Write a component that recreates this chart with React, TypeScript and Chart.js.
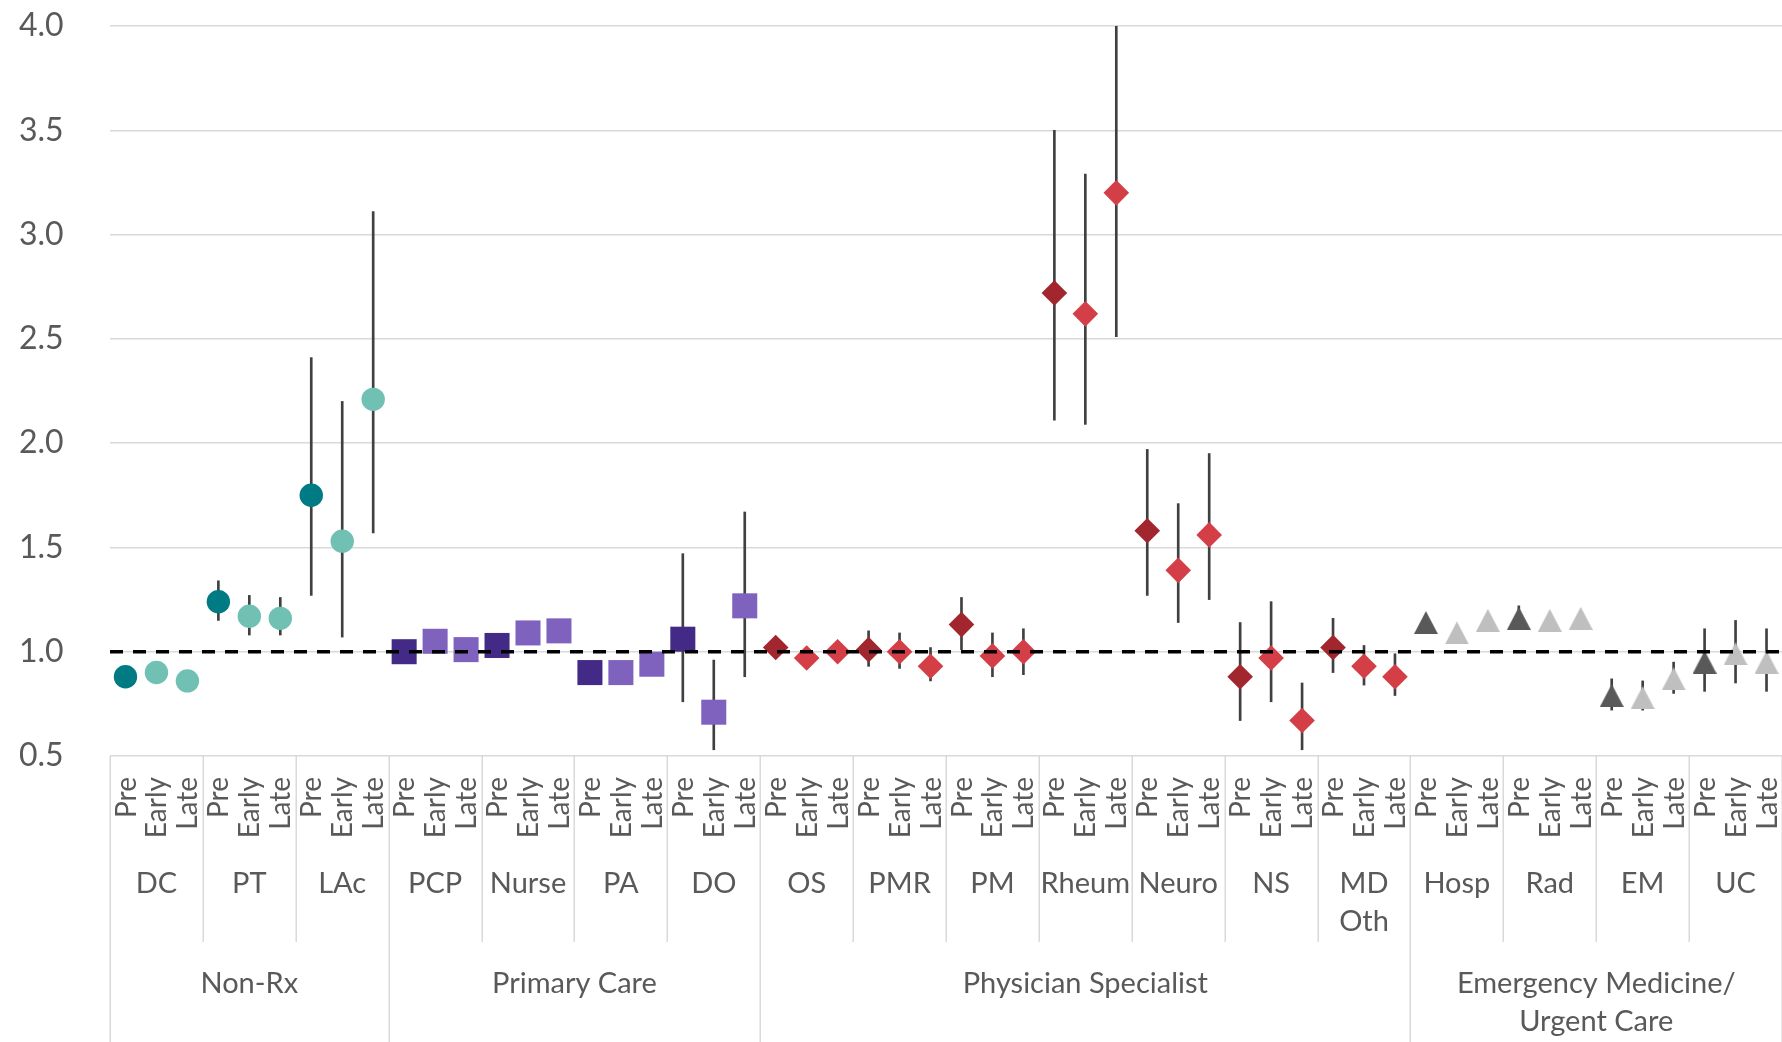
import React, { useEffect, useRef } from 'react';
import { Chart, registerables } from 'chart.js';

Chart.register(...registerables);

// ---------- data ----------
const GROUPS = ['Non-Rx', 'Primary Care', 'Physician Specialist', 'Emergency Medicine/\nUrgent Care'];
const GROUP_SIZES = [3, 4, 7, 4];
const SUBCATEGORIES = [
  'DC', 'PT', 'LAc',
  'PCP', 'Nurse', 'PA', 'DO',
  'OS', 'PMR', 'PM', 'Rheum', 'Neuro', 'NS', 'MD\nOth',
  'Hosp', 'Rad', 'EM', 'UC',
];
const PHASES = ['Pre', 'Early', 'Late'];

const ESTIMATES = [
  0.88, 0.90, 0.86,
  1.24, 1.17, 1.16,
  1.75, 1.53, 2.21,
  1.00, 1.05, 1.01,
  1.03, 1.09, 1.10,
  0.90, 0.90, 0.94,
  1.06, 0.71, 1.22,
  1.02, 0.97, 1.00,
  1.01, 1.00, 0.93,
  1.13, 0.98, 1.00,
  2.72, 2.62, 3.20,
  1.58, 1.39, 1.56,
  0.88, 0.97, 0.67,
  1.02, 0.93, 0.88,
  1.14, 1.09, 1.15,
  1.16, 1.15, 1.16,
  0.79, 0.78, 0.87,
  0.95, 0.99, 0.95,
];

const LOWER = [
  null, null, null,
  1.15, 1.08, 1.08,
  1.27, 1.07, 1.57,
  null, null, null,
  null, null, null,
  null, null, null,
  0.76, 0.53, 0.88,
  null, null, null,
  0.93, 0.92, 0.86,
  1.01, 0.88, 0.89,
  2.11, 2.09, 2.51,
  1.27, 1.14, 1.25,
  0.67, 0.76, 0.53,
  0.90, 0.84, 0.79,
  null, null, null,
  1.12, 1.11, null,
  0.72, 0.72, 0.80,
  0.81, 0.85, 0.81,
];

const UPPER = [
  null, null, null,
  1.34, 1.27, 1.26,
  2.41, 2.20, 3.11,
  null, null, null,
  null, null, null,
  null, null, null,
  1.47, 0.96, 1.67,
  null, null, null,
  1.10, 1.09, 1.02,
  1.26, 1.09, 1.11,
  3.50, 3.29, 4.00,
  1.97, 1.71, 1.95,
  1.14, 1.24, 0.85,
  1.16, 1.03, 0.99,
  null, null, null,
  1.22, 1.18, null,
  0.87, 0.86, 0.95,
  1.11, 1.15, 1.11,
];

const Y_MIN = 0.5;
const Y_MAX = 4.0;
const Y_STEP = 0.5;
const REFERENCE = 1.0;

// ---------- styles ----------
const FONT = 'Lato, "Open Sans", sans-serif';
const TEXT_COLOR = '#595959';
const GRID_COLOR = '#d9d9d9';
const GROUP_STYLES = [
  { shape: 'circle', radius: 11.7, dark: '#007B84', light: '#70C1B3' },
  { shape: 'rect', radius: 17.7, dark: '#432A86', light: '#7F62BD' },
  { shape: 'rectRot', radius: 12.8, dark: '#A2262E', light: '#D43E46' },
  { shape: 'triangle', radius: 11.5, dark: '#595959', light: '#BFBFBF' },
];

function makeTriangle(color: string, w = 24, h = 23) {
  const c = document.createElement('canvas');
  c.width = w;
  c.height = h;
  const g = c.getContext('2d')!;
  g.fillStyle = color;
  g.beginPath();
  g.moveTo(w / 2, 0);
  g.lineTo(w, h);
  g.lineTo(0, h);
  g.closePath();
  g.fill();
  return c;
}

const hierLabels = {
  id: 'hierLabels',
  afterDraw(chart: any) {
    const ctx = chart.ctx as CanvasRenderingContext2D;
    const xs = chart.scales.x;
    const area = chart.chartArea;
    const base = area.bottom;
    const bottom = chart.height;
    ctx.save();
    ctx.fillStyle = TEXT_COLOR;

    // rotated phase labels
    ctx.font = `28px ${FONT}`;
    ctx.textAlign = 'right';
    ctx.textBaseline = 'middle';
    for (let i = 0; i < SUBCATEGORIES.length * PHASES.length; i++) {
      const x = xs.getPixelForValue(i);
      ctx.save();
      ctx.translate(x + 1, base + 21);
      ctx.rotate(-Math.PI / 2);
      ctx.fillText(PHASES[i % PHASES.length], 0, 0);
      ctx.restore();
    }

    // separators
    const groupStarts = new Set<number>();
    let acc = 0;
    GROUP_SIZES.forEach((s) => { groupStarts.add(acc); acc += s; });
    groupStarts.add(acc);
    ctx.strokeStyle = GRID_COLOR;
    ctx.lineWidth = 1.5;
    for (let k = 0; k <= SUBCATEGORIES.length; k++) {
      const x = Math.round(xs.getPixelForValue(k * 3 - 0.5)) + 0.25;
      const yEnd = groupStarts.has(k) ? bottom : base + 186;
      ctx.beginPath();
      ctx.moveTo(x, base);
      ctx.lineTo(x, yEnd);
      ctx.stroke();
    }

    // subcategory labels
    ctx.font = `29px ${FONT}`;
    ctx.textAlign = 'center';
    ctx.textBaseline = 'alphabetic';
    SUBCATEGORIES.forEach((name, k) => {
      const x = xs.getPixelForValue(k * 3 + 1);
      name.split('\n').forEach((line, j) => {
        ctx.fillText(line, x, base + 137 + j * 38);
      });
    });

    // group labels
    let start = 0;
    GROUPS.forEach((name, g) => {
      const n = GROUP_SIZES[g];
      const x0 = xs.getPixelForValue(start * 3 - 0.5);
      const x1 = xs.getPixelForValue((start + n) * 3 - 0.5);
      const x = (x0 + x1) / 2;
      name.split('\n').forEach((line, j) => {
        ctx.fillText(line, x, base + 237 + j * 38);
      });
      start += n;
    });
    ctx.restore();
  },
};

export default function App() {
  const ref = useRef<HTMLCanvasElement>(null);

  useEffect(() => {
    const canvas = ref.current!;
    const triDark = makeTriangle(GROUP_STYLES[3].dark);
    const triLight = makeTriangle(GROUP_STYLES[3].light);

    const pointSets: any[] = [];
    let start = 0;
    GROUP_SIZES.forEach((n, g) => {
      const st = GROUP_STYLES[g];
      const data: any[] = [];
      const colors: string[] = [];
      const styles: any[] = [];
      for (let i = start * 3; i < (start + n) * 3; i++) {
        data.push({ x: i, y: ESTIMATES[i] });
        const isPre = i % 3 === 0;
        colors.push(isPre ? st.dark : st.light);
        if (st.shape === 'triangle') styles.push(isPre ? triDark : triLight);
        else styles.push(st.shape);
      }
      pointSets.push({
        type: 'scatter',
        label: GROUPS[g],
        data,
        pointStyle: styles,
        pointRadius: st.radius,
        pointBackgroundColor: colors,
        pointBorderWidth: 0,
        pointBorderColor: colors,
        showLine: false,
        order: 2,
      });
      start += n;
    });

    const errData: any[] = [];
    ESTIMATES.forEach((_, i) => {
      if (LOWER[i] != null && UPPER[i] != null) errData.push({ x: i, y: [LOWER[i], UPPER[i]] });
    });

    const total = SUBCATEGORIES.length * PHASES.length;

    const chart = new Chart(canvas, {
      type: 'scatter',
      data: {
        datasets: [
          {
            type: 'line',
            label: 'ref',
            data: [{ x: -0.5, y: REFERENCE }, { x: total - 0.5, y: REFERENCE }],
            borderColor: '#000000',
            borderWidth: 3.5,
            borderDash: [13, 10],
            pointRadius: 0,
            fill: false,
            order: 0,
          } as any,
          ...pointSets,
          {
            type: 'bar',
            label: 'ci',
            data: errData,
            backgroundColor: '#404040',
            borderWidth: 0,
            barThickness: 2,
            grouped: false,
            order: 5,
          } as any,
        ],
      },
      options: {
        responsive: false,
        devicePixelRatio: 1,
        animation: false,
        layout: { autoPadding: false, padding: { top: 26, right: 0, bottom: 286, left: 19 } },
        plugins: { legend: { display: false }, tooltip: { enabled: false } },
        scales: {
          x: {
            type: 'linear',
            display: false,
            min: -0.5,
            max: total - 0.5,
            offset: false,
            grid: { display: false, offset: false },
          },
          y: {
            type: 'linear',
            min: Y_MIN,
            max: Y_MAX,
            beginAtZero: false,
            border: { display: false },
            grid: { color: GRID_COLOR, lineWidth: 1.5, drawTicks: false },
            ticks: {
              stepSize: Y_STEP,
              padding: 0,
              crossAlign: 'far',
              color: TEXT_COLOR,
              font: { family: FONT, size: 32 },
              callback: (v: any) => Number(v).toFixed(1),
            },
            afterFit: (scale: any) => { scale.width = 91; },
          },
        },
      },
      plugins: [hierLabels],
    });
    return () => chart.destroy();
  }, []);

  return (
    <div style={{ position: 'absolute', left: 0, top: 0, width: 1782, height: 1042, background: '#fff', overflow: 'hidden' }}>
      <canvas ref={ref} width={1782} height={1042} style={{ display: 'block' }} />
    </div>
  );
}
